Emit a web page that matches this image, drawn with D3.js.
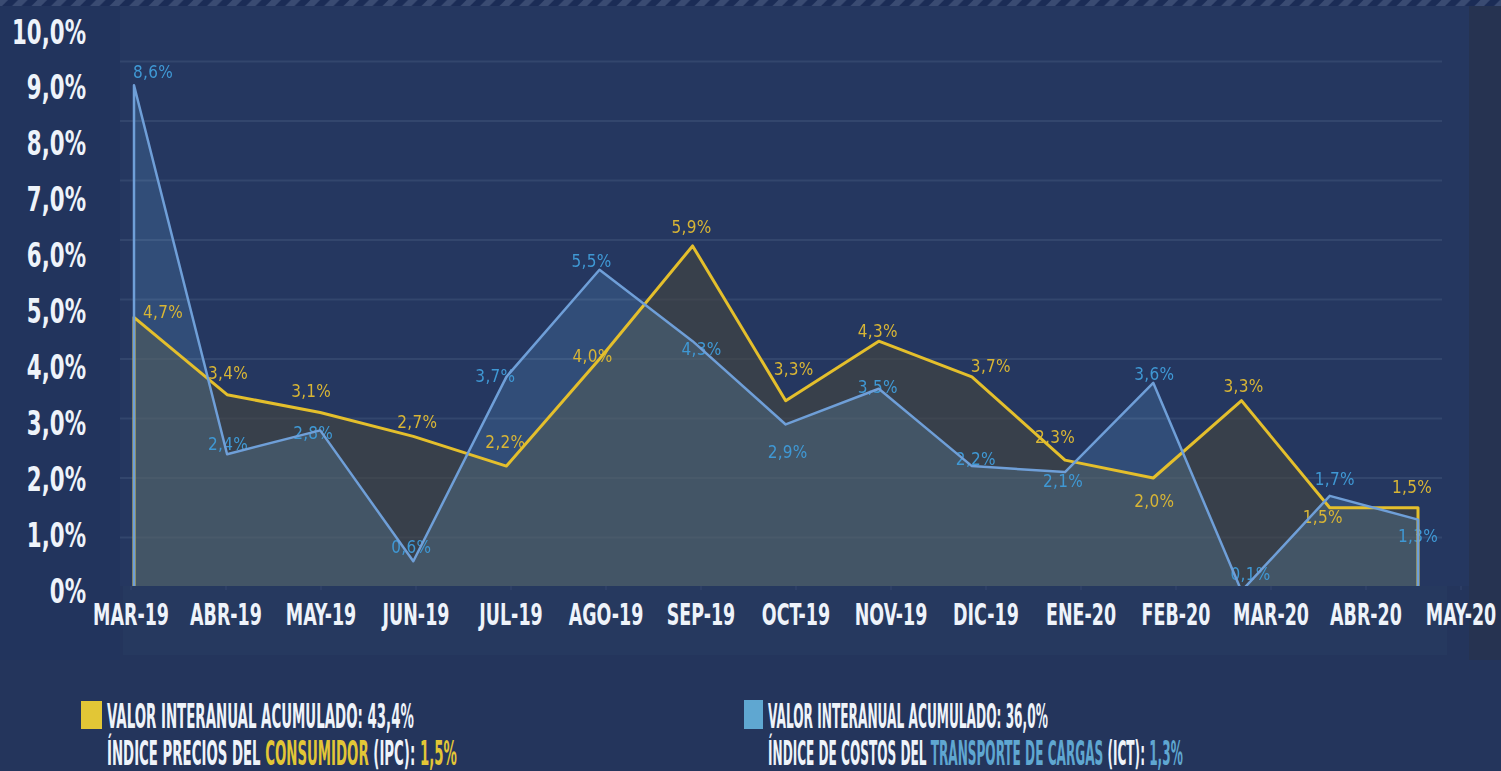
<!DOCTYPE html>
<html>
<head>
<meta charset="utf-8">
<script src="https://cdn.jsdelivr.net/npm/d3@7"></script>
<style>
    html, body { margin: 0; padding: 0; background: #24355c; overflow: hidden; }
    svg { display: block; }
</style>
</head>
<body>
<svg id="chart" width="1501" height="771"></svg>
<script>
// data
const months = ["MAR-19", "ABR-19", "MAY-19", "JUN-19", "JUL-19", "AGO-19", "SEP-19",
    "OCT-19", "NOV-19", "DIC-19", "ENE-20", "FEB-20", "MAR-20", "ABR-20", "MAY-20"];
const ipc = [4.7, 3.4, 3.1, 2.7, 2.2, 4.0, 5.9, 3.3, 4.3, 3.7, 2.3, 2.0, 3.3, 1.5, 1.5];
const ict = [8.6, 2.4, 2.8, 0.6, 3.7, 5.5, 4.3, 2.9, 3.5, 2.2, 2.1, 3.6, 0.1, 1.7, 1.3];
const yTickLabels = ["0%", "1,0%", "2,0%", "3,0%", "4,0%", "5,0%", "6,0%", "7,0%", "8,0%", "9,0%", "10,0%"];
const legendTotals = ["43,4%", "36,0%"];
const legendLatest = ["1,5%", "1,3%"];

// label nudges [dx, dy] from each point (hand placed like in the original)
const ipcNudge = [[29, 1], [1, -16], [-9, -16], [4, -8], [-1, -18], [-7, 3], [-1, -13], [8, -26],
    [-1, -4], [19, -5], [-10, -17], [1, 29], [2, -9], [-7, 15], [-6, -15]];
const ictNudge = [[19, -7], [1, -4], [-7, 9], [-2, -8], [-11, 5], [-8, -3], [9, 14], [2, 34],
    [-1, 4], [4, -1], [-2, 15], [1, -3], [9, -11], [5, -11], [0, 22]];

const yellow = "#e4bf2c";
const blue = "#6f9fd8";
const condensed = "'Liberation Sans Narrow', 'DejaVu Sans Condensed', sans-serif";

const svg = d3.select("#chart");
const W = 1501, H = 771;
const plotBottom = 586;

// scales
const x = d3.scaleLinear().domain([0, 10, 14]).range([134, 1065, 1418]);
const y = d3.scaleLinear().domain([0, 10]).range([597, 2]);
const yLab = d3.scaleLinear().domain([0, 10]).range([602, 43]);
const xLab = d3.scalePoint().domain(months).range([130.5, 1460.5]);

// backgrounds
const defs = svg.append("defs");
const pat = defs.append("pattern")
    .attr("id", "stripe")
    .attr("patternUnits", "userSpaceOnUse")
    .attr("width", 19.5).attr("height", 6);
pat.append("rect").attr("width", 19.5).attr("height", 6).attr("fill", "#3a4b72");
pat.append("polygon").attr("points", "2,6 8,0 18,0 12,6").attr("fill", "#1b2c56");

defs.append("clipPath").attr("id", "plotClip")
    .append("rect").attr("x", 120).attr("y", 0).attr("width", 1349).attr("height", plotBottom);

svg.append("rect").attr("width", W).attr("height", H).attr("fill", "#24355c");
svg.append("rect").attr("x", 0).attr("y", 0).attr("width", 120).attr("height", 660).attr("fill", "#22345d");
svg.append("rect").attr("x", 1469).attr("y", 0).attr("width", 32).attr("height", 660).attr("fill", "#263351");
svg.append("rect").attr("x", 123).attr("y", plotBottom).attr("width", 1324).attr("height", 69).attr("fill", "#26395f");

const plot = svg.append("g").attr("clip-path", "url(#plotClip)");
plot.append("rect").attr("x", 120).attr("y", 0).attr("width", 1349).attr("height", plotBottom).attr("fill", "#253760");

svg.append("rect").attr("width", W).attr("height", 6).attr("fill", "url(#stripe)");

// gridlines
plot.append("g")
    .selectAll("line")
    .data(d3.range(1, 10))
    .enter().append("line")
    .attr("x1", 120).attr("x2", 1442)
    .attr("y1", d => y(d)).attr("y2", d => y(d))
    .attr("stroke", "#33466d")
    .attr("stroke-width", 2);

const area = d3.area()
    .x((d, i) => x(i))
    .y0(y(0))
    .y1(d => y(d));

// outline incl. the vertical edges at both ends
function outline(vals) {
    const pts = vals.map((v, i) => [x(i), y(v)]);
    pts.unshift([x(0), y(0)]);
    pts.push([x(vals.length - 1), y(0)]);
    return d3.line()(pts);
}

plot.append("path")
    .datum(ipc)
    .attr("fill", "rgba(70, 70, 62, 0.6)")
    .attr("d", area);

plot.append("path")
    .datum(ict)
    .attr("fill", "rgb(14, 28, 38)")
    .style("mix-blend-mode", "screen")
    .attr("d", area);

// data labels
const fmt = v => v.toFixed(1).replace(".", ",") + "%";

function labels(vals, nudge, color) {
    plot.append("g")
        .selectAll("text")
        .data(vals)
        .enter().append("text")
        .attr("x", (d, i) => x(i) + nudge[i][0])
        .attr("y", (d, i) => y(d) + nudge[i][1])
        .attr("text-anchor", "middle")
        .style("font-family", "'DejaVu Sans Condensed', sans-serif")
        .style("font-size", "17px")
        .style("letter-spacing", "0.3px")
        .attr("fill", color)
        .text(fmt);
}
labels(ipc, ipcNudge, "#d8b535");
labels(ict, ictNudge, "#3f98d4");

// lines
plot.append("path")
    .attr("d", outline(ipc))
    .attr("fill", "none")
    .attr("stroke", yellow)
    .attr("stroke-width", 3)
    .attr("stroke-linejoin", "round");

plot.append("path")
    .attr("d", outline(ict))
    .attr("fill", "none")
    .attr("stroke", blue)
    .attr("stroke-width", 2.5)
    .attr("stroke-linejoin", "round");

// squeeze condensed text to the original width
function squeeze(texts, sample, target) {
    const w = texts.filter(function() { return this.textContent === sample; }).node().getComputedTextLength();
    const k = target / w;
    texts.attr("transform", `scale(${k},1)`);
}

// x axis
const xAxis = svg.append("g")
    .attr("transform", `translate(0,${plotBottom})`)
    .call(d3.axisBottom(xLab).tickSize(4).tickPadding(35));
xAxis.select(".domain").remove();
xAxis.selectAll("line").attr("stroke", "#34476f");
xAxis.selectAll("text")
    .attr("dy", 0)
    .attr("y", 625 - plotBottom)
    .attr("fill", "#eef3fa")
    .style("font-family", condensed)
    .style("font-weight", "bold")
    .style("font-size", "30px");
squeeze(xAxis.selectAll("text"), "MAR-19", 76);

// y axis
const yAxis = svg.append("g")
    .attr("transform", "translate(86,0)")
    .call(d3.axisLeft(yLab)
        .tickValues(d3.range(0, 11))
        .tickFormat(d => yTickLabels[d])
        .tickSize(0)
        .tickPadding(0));
yAxis.select(".domain").remove();
yAxis.selectAll("text")
    .attr("dy", 0)
    .attr("fill", "#eef3fa")
    .style("font-family", condensed)
    .style("font-weight", "bold")
    .style("font-size", "34px");
squeeze(yAxis.selectAll("text"), "10,0%", 74);

// legend
const legend = [
    { color: "#e2c636", sq: [81, 701, 21, 28], tx: 107, w1: 307, w2: 350,
      pre: "ÍNDICE PRECIOS DEL ", key: "CONSUMIDOR", mid: " (IPC): " },
    { color: "#5fa7d1", sq: [744, 700, 19, 29], tx: 768, w1: 280, w2: 415,
      pre: "ÍNDICE DE COSTOS DEL ", key: "TRANSPORTE DE CARGAS", mid: " (ICT): " }
];

function legendLine(g, tx, ty, width) {
    const holder = g.append("g").attr("transform", `translate(${tx},${ty})`);
    const t = holder.append("text")
        .attr("fill", "#eef3fa")
        .style("font-family", condensed)
        .style("font-weight", "bold")
        .style("font-size", "33px");
    return { holder, t, fit: () => {
        const k = width / t.node().getComputedTextLength();
        t.attr("transform", `scale(${k},1)`);
    } };
}

legend.forEach((l, i) => {
    const g = svg.append("g");
    g.append("rect")
        .attr("x", l.sq[0]).attr("y", l.sq[1])
        .attr("width", l.sq[2]).attr("height", l.sq[3])
        .attr("fill", l.color);

    const a = legendLine(g, l.tx, 728, l.w1);
    a.t.text("VALOR INTERANUAL ACUMULADO: " + legendTotals[i]);
    a.fit();

    const b = legendLine(g, l.tx, 765, l.w2);
    b.t.append("tspan").text(l.pre);
    b.t.append("tspan").attr("fill", l.color).text(l.key);
    b.t.append("tspan").text(l.mid);
    b.t.append("tspan").attr("fill", l.color).text(legendLatest[i]);
    b.fit();
});
</script>
</body>
</html>
